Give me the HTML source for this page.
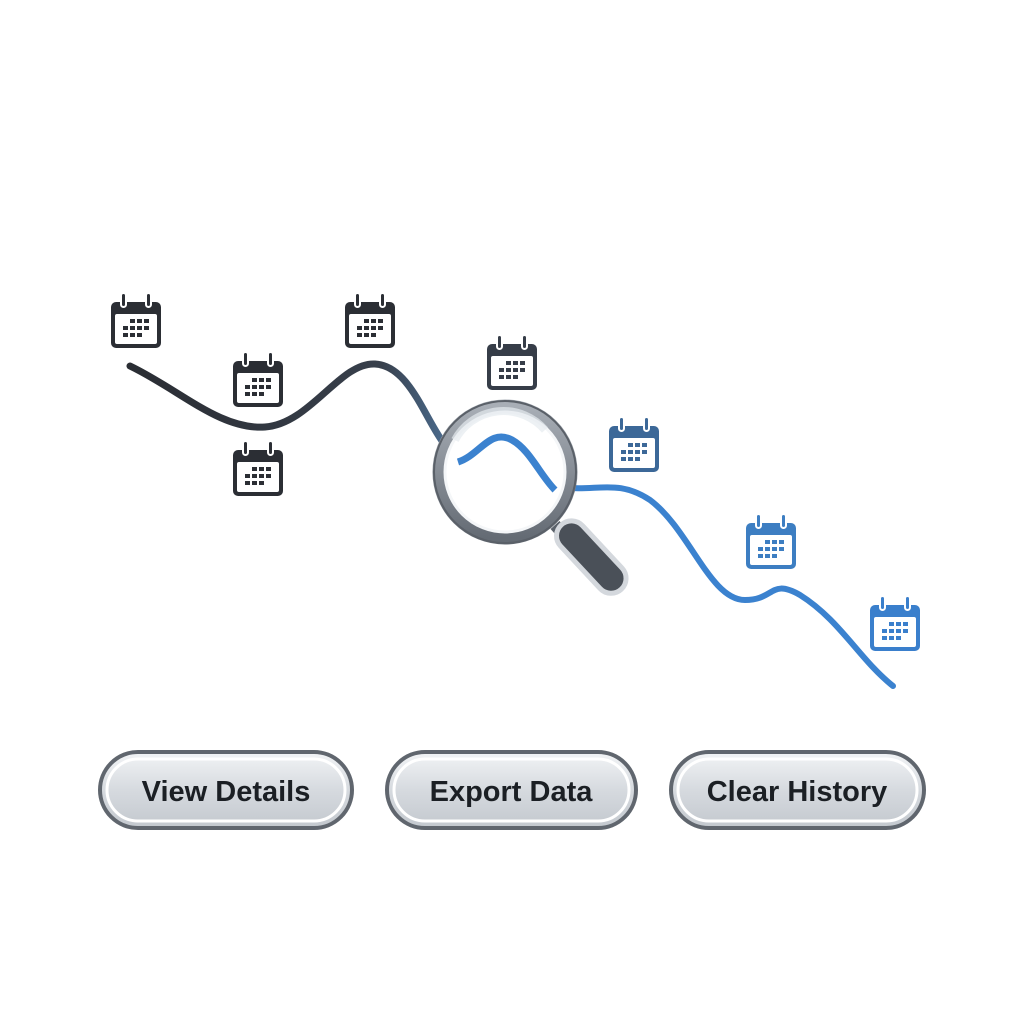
<!DOCTYPE html>
<html><head><style>
body{margin:0;width:1024px;height:1024px;background:#fff;overflow:hidden}
</style></head><body>
<svg width="1024" height="1024" viewBox="0 0 1024 1024" xmlns="http://www.w3.org/2000/svg">
<defs>
<linearGradient id="dl" x1="0" x2="1"><stop offset="0" stop-color="#2a2d33"/><stop offset="0.8" stop-color="#38404c"/><stop offset="1" stop-color="#4a6a8c"/></linearGradient>
<linearGradient id="btn" x1="0" y1="0" x2="0" y2="1"><stop offset="0" stop-color="#f2f4f6"/><stop offset="0.5" stop-color="#d6dadf"/><stop offset="1" stop-color="#c3c8ce"/></linearGradient>
<linearGradient id="rim" x1="0" y1="0" x2="0" y2="1"><stop offset="0" stop-color="#a8aeb6"/><stop offset="1" stop-color="#646b74"/></linearGradient>
<g id="cal">
<rect x="-25" y="-20" width="50" height="46" rx="5" fill="currentColor"/>
<rect x="-21" y="-8" width="42" height="30" rx="2" fill="#fff"/>
<rect x="-15" y="-29" width="5" height="14" rx="2.5" fill="currentColor" stroke="#fff" stroke-width="2"/>
<rect x="10" y="-29" width="5" height="14" rx="2.5" fill="currentColor" stroke="#fff" stroke-width="2"/>
<g fill="currentColor">
<rect x="-6" y="-3" width="5" height="4"/><rect x="1" y="-3" width="5" height="4"/><rect x="8" y="-3" width="5" height="4"/>
<rect x="-13" y="4" width="5" height="4"/><rect x="-6" y="4" width="5" height="4"/><rect x="1" y="4" width="5" height="4"/><rect x="8" y="4" width="5" height="4"/>
<rect x="-13" y="11" width="5" height="4"/><rect x="-6" y="11" width="5" height="4"/><rect x="1" y="11" width="5" height="4"/>
</g>
</g>
</defs>
<path d="M130 366 C180 390 220 430 265 427 C310 424 340 362 375 364 C410 366 425 420 445 445" fill="none" stroke="url(#dl)" stroke-width="7" stroke-linecap="round"/>
<path d="M570 488 C600 490 620 480 650 500 C690 530 710 600 745 600 C775 600 770 578 800 595 C840 620 860 660 893 686" fill="none" stroke="#3b82cf" stroke-width="6" stroke-linecap="round"/>
<line x1="555" y1="525" x2="600" y2="575" stroke="#5a616a" stroke-width="12"/>
<rect x="550" y="545" width="88" height="30" rx="15" transform="rotate(47 594 560) translate(-4 0)" fill="#4a5058" stroke="#d4d8dd" stroke-width="5"/>
<circle cx="505" cy="472" r="66" fill="#fff" stroke="url(#rim)" stroke-width="13"/>
<circle cx="505" cy="472" r="71" fill="none" stroke="#5a6068" stroke-width="2"/>
<circle cx="505" cy="472" r="60" fill="none" stroke="#f4f6f8" stroke-width="3"/>
<path d="M458 462 C480 455 490 428 512 440 C530 450 540 475 555 490" fill="none" stroke="#3b82cf" stroke-width="7"/>
<path d="M455 440 A55 55 0 0 1 545 430" fill="none" stroke="#e6ebf0" stroke-width="8" opacity="0.7"/>
<g color="#2b2e34"><use href="#cal" x="136" y="322"/><use href="#cal" x="258" y="381"/><use href="#cal" x="258" y="470"/><use href="#cal" x="370" y="322"/></g>
<use href="#cal" x="512" y="364" color="#363d48"/>
<use href="#cal" x="634" y="446" color="#3c6898"/>
<use href="#cal" x="771" y="543" color="#3d7ec2"/>
<use href="#cal" x="895" y="625" color="#3a7fcc"/>
<g font-family="Liberation Sans, sans-serif" font-weight="bold" font-size="29" fill="#1b1f24" text-anchor="middle">
<rect x="100" y="752" width="252" height="76" rx="38" fill="url(#btn)" stroke="#60666e" stroke-width="4"/>
<rect x="107" y="759" width="238" height="62" rx="31" fill="none" stroke="#fff" stroke-width="3"/>
<text x="226" y="801">View Details</text>
<rect x="387" y="752" width="249" height="76" rx="38" fill="url(#btn)" stroke="#60666e" stroke-width="4"/>
<rect x="394" y="759" width="235" height="62" rx="31" fill="none" stroke="#fff" stroke-width="3"/>
<text x="511" y="801">Export Data</text>
<rect x="671" y="752" width="253" height="76" rx="38" fill="url(#btn)" stroke="#60666e" stroke-width="4"/>
<rect x="678" y="759" width="239" height="62" rx="31" fill="none" stroke="#fff" stroke-width="3"/>
<text x="797" y="801">Clear History</text>
</g>
</svg>
</body></html>
